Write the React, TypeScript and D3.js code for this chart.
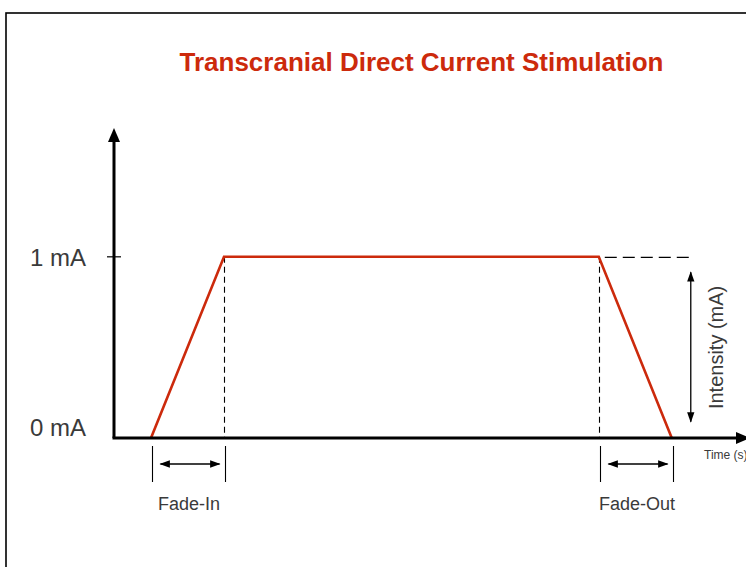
import React from 'react';
import * as d3 from 'd3';

// waveform: time (s) vs intensity (mA)
const waveTime = [0, 30, 184, 214];
const waveMa = [0, 1, 1, 0];
const yTicks = [0, 1];
const yTickLabels = ['0 mA', '1 mA'];
const phases = [
  { name: 'Fade-In', start: 0, end: 30 },
  { name: 'Fade-Out', start: 184, end: 214 },
];

const W = 746;
const H = 567;
const RED = '#cc2a0c';
const GREY = '#3a3a3a';
const SANS = "'Liberation Sans', Arial, Helvetica, sans-serif";

const App = () => {
  const x = d3.scaleLinear().domain([-15.2, 244.5]).range([114, 746]);
  const y = d3.scaleLinear().domain([0, 1.7]).range([438, 130]);

  const pts: [number, number][] = waveTime.map((t, i) => [t, waveMa[i]]);
  const line = d3.line<[number, number]>().x(d => x(d[0])).y(d => y(d[1]));

  const x0 = x.range()[0];
  const xEnd = x.range()[1];
  const yTop = y.range()[1];
  const yBase = y(0);
  const plateauY = y(1);
  const tStart = x(phases[1].start);
  const arrowX = x(phases[1].end) + 19;

  return (
    <div style={{ position: 'absolute', left: 0, top: 0 }}>
      <svg width={W} height={H} style={{ display: 'block', background: '#fff' }}>
        <defs>
          <marker id="ahs" viewBox="0 0 10 10" refX="9" refY="5" markerWidth="8" markerHeight="8" orient="auto-start-reverse">
            <path d="M0,1.5 L10,5 L0,8.5 z" fill="#000" />
          </marker>
        </defs>

        {/* frame */}
        <rect x={6} y={13} width={W + 20} height={H + 20} fill="none" stroke="#000" strokeWidth={1.6} />

        <text x={421.5} y={71} textAnchor="middle" fill={RED} fontSize={26} fontWeight="bold" fontFamily={SANS}>
          Transcranial Direct Current Stimulation
        </text>

        {/* dashed guides */}
        {phases.map(p => {
          const gx = Math.round(p.name === 'Fade-In' ? x(p.end) : x(p.start)) + 0.5;
          return (
            <line key={p.name} x1={gx} x2={gx} y1={plateauY} y2={yBase} stroke="#000" strokeWidth={1.1} strokeDasharray="6,4" />
          );
        })}
        <line x1={tStart + 6} x2={arrowX - 2} y1={plateauY + 0.5} y2={plateauY + 0.5} stroke="#000" strokeWidth={1.2} strokeDasharray="12,6" />

        {/* waveform */}
        <path d={line(pts) || ''} fill="none" stroke={RED} strokeWidth={2.6} strokeLinejoin="miter" />

        {/* axes */}
        <line x1={x0} x2={x0} y1={yBase} y2={yTop + 8} stroke="#000" strokeWidth={3} />
        <path d={`M${x0 - 6},${yTop + 12} L${x0},${yTop - 2} L${x0 + 6},${yTop + 12} z`} fill="#000" />
        <line x1={x0 - 1.5} x2={xEnd - 6} y1={yBase} y2={yBase} stroke="#000" strokeWidth={3} />
        <path d={`M${xEnd - 10},${yBase - 6} L${xEnd + 4},${yBase} L${xEnd - 10},${yBase + 6} z`} fill="#000" />

        {yTicks.map((v, i) => (
          <g key={v}>
            {v > 0 && <line x1={x0 - 7} x2={x0 + 7} y1={y(v)} y2={y(v)} stroke="#000" strokeWidth={1.2} />}
            <text x={86} y={y(v) + (v > 0 ? 9.5 : -2)} textAnchor="end" fontSize={24}
              fill={GREY} fontFamily={SANS}>
              {yTickLabels[i]}
            </text>
          </g>
        ))}

        <text x={704} y={459} fontSize={12} fill={GREY} fontFamily={SANS}>Time (s)</text>

        {/* intensity arrow */}
        <line x1={arrowX} x2={arrowX} y1={y(0.915)} y2={y(0.09)} stroke="#000" strokeWidth={1.3}
          markerStart="url(#ahs)" markerEnd="url(#ahs)" />
        <text transform={`translate(${arrowX + 32},${y(0.5)}) rotate(-90)`} textAnchor="middle" fontSize={20}
          fill={GREY} fontFamily={SANS}>
          Intensity (mA)
        </text>

        {/* fade brackets */}
        {phases.map(p => {
          const a = Math.round(x(p.start)) + 1.5;
          const b = Math.round(x(p.end)) + 1.5;
          return (
            <g key={p.name}>
              <line x1={a} x2={a} y1={446} y2={482} stroke="#000" strokeWidth={1.1} />
              <line x1={b} x2={b} y1={446} y2={482} stroke="#000" strokeWidth={1.1} />
              <line x1={a + 8} x2={b - 6} y1={464} y2={464} stroke="#000" strokeWidth={1.3}
                markerStart="url(#ahs)" markerEnd="url(#ahs)" />
              <text x={(a + b) / 2} y={510} textAnchor="middle" fontSize={18} fill={GREY} fontFamily={SANS}>
                {p.name}
              </text>
            </g>
          );
        })}
      </svg>
    </div>
  );
};

export default App;
